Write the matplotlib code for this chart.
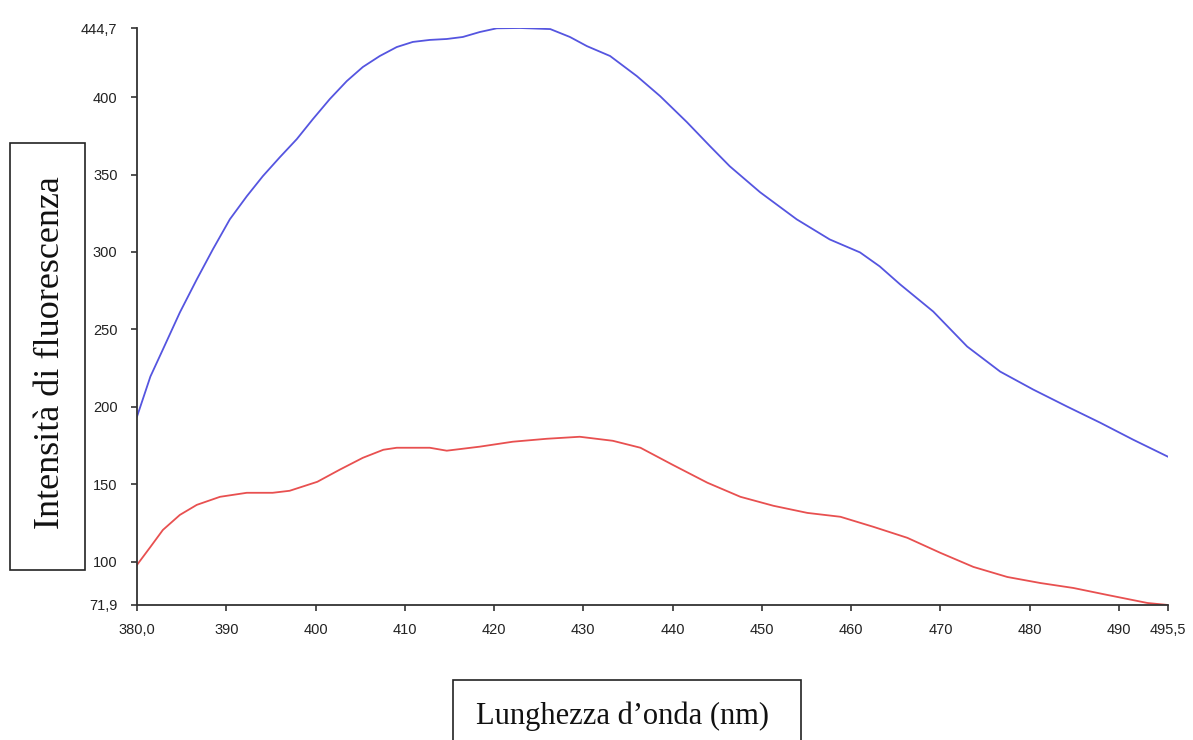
import matplotlib
matplotlib.use("Agg")
import matplotlib.pyplot as plt
from matplotlib.patches import Rectangle

# spettri di fluorescenza
wl_blu = [380.0, 381.5, 382.9, 384.8, 386.7, 388.5, 390.4, 392.3, 394.1, 396.0,
          397.9, 399.7, 401.6, 403.5, 405.3, 407.2, 409.1, 410.9, 412.8, 414.7,
          416.5, 418.4, 420.3, 422.9, 426.3, 428.5, 430.4, 433.0, 436.0, 438.6,
          441.6, 444.2, 446.4, 449.8, 453.9, 457.6, 461.0, 463.2, 465.5, 469.2,
          473.0, 476.7, 480.4, 484.2, 487.9, 491.6, 495.5]
int_blu = [193.6, 219.5, 237.0, 260.9, 282.3, 301.7, 321.1, 336.0, 349.0, 361.2,
           372.9, 385.8, 398.8, 410.4, 419.5, 426.6, 432.4, 435.7, 437.0, 437.6,
           438.9, 442.1, 444.5, 444.7, 444.0, 438.9, 433.0, 426.6, 413.6, 400.7,
           383.9, 368.3, 355.4, 338.6, 321.1, 308.1, 299.7, 290.7, 279.0, 261.5,
           238.9, 222.7, 211.1, 200.1, 189.7, 178.7, 167.7]

wl_rosso = [380.0, 381.5, 382.9, 384.8, 386.7, 389.3, 392.3, 395.2, 397.1, 400.2,
            402.7, 405.3, 407.6, 409.1, 412.8, 414.7, 418.4, 422.1, 425.9, 429.6,
            433.3, 436.4, 440.0, 443.9, 447.6, 451.3, 455.1, 458.8, 462.5, 466.3,
            470.0, 473.7, 477.5, 481.2, 484.9, 488.7, 493.2, 495.5]
int_rosso = [97.8, 109.4, 120.4, 130.1, 136.6, 141.8, 144.4, 144.4, 145.7, 151.5,
             159.3, 167.0, 172.2, 173.5, 173.5, 171.6, 174.2, 177.4, 179.3, 180.6,
             178.0, 173.5, 162.5, 150.9, 141.8, 136.0, 131.4, 128.9, 122.4, 115.3,
             105.6, 96.5, 90.0, 86.1, 82.9, 78.4, 73.2, 71.9]

xticks = [380.0, 390, 400, 410, 420, 430, 440, 450, 460, 470, 480, 490, 495.5]
xlabels = ['380,0', '390', '400', '410', '420', '430', '440', '450', '460', '470', '480', '490', '495,5']
yticks = [71.9, 100, 150, 200, 250, 300, 350, 400, 444.7]
ylabels = ['71,9', '100', '150', '200', '250', '300', '350', '400', '444,7']

fig = plt.figure(figsize=(11.93, 7.40), dpi=100)
ax = fig.add_axes([137 / 1193, 135 / 740, 1031 / 1193, 577 / 740])

ax.plot(wl_blu, int_blu, color='#5555e0', lw=1.3)
ax.plot(wl_rosso, int_rosso, color='#e85050', lw=1.3)

ax.set_xlim(380, 495.5)
ax.set_ylim(71.9, 444.7)
ax.set_xticks(xticks)
ax.set_xticklabels(xlabels)
ax.set_yticks(yticks)
ax.set_yticklabels(ylabels)
for s in ['top', 'right']:
    ax.spines[s].set_visible(False)
for s in ['left', 'bottom']:
    ax.spines[s].set_color('#333333')
    ax.spines[s].set_linewidth(1.3)
ax.tick_params(length=4, width=1.2, color='#333333', labelsize=10.5, labelcolor='#222222')
ax.tick_params(axis='x', pad=9)
ax.tick_params(axis='y', pad=10)
for lab in ax.get_xticklabels() + ax.get_yticklabels():
    lab.set_fontfamily('Liberation Sans')

# riquadri delle etichette degli assi
fig.add_artist(Rectangle((10 / 1193, 170 / 740), 75 / 1193, 427 / 740,
                         transform=fig.transFigure, fill=False, ec='#222222', lw=1.2))
fig.add_artist(Rectangle((453 / 1193, -10 / 740), 348 / 1193, 70 / 740,
                         transform=fig.transFigure, fill=False, ec='#222222', lw=1.2))
fig.text(51 / 1193, 387 / 740, 'Intensità di fluorescenza', rotation=90,
         ha='center', va='center', fontsize=26, family='Liberation Serif', color='#111111')
fig.text(622 / 1193, 24 / 740, 'Lunghezza d\u2019onda (nm)',
         ha='center', va='center', fontsize=22, family='Liberation Serif', color='#111111')

fig.savefig('out.png', dpi=100, facecolor='white')
